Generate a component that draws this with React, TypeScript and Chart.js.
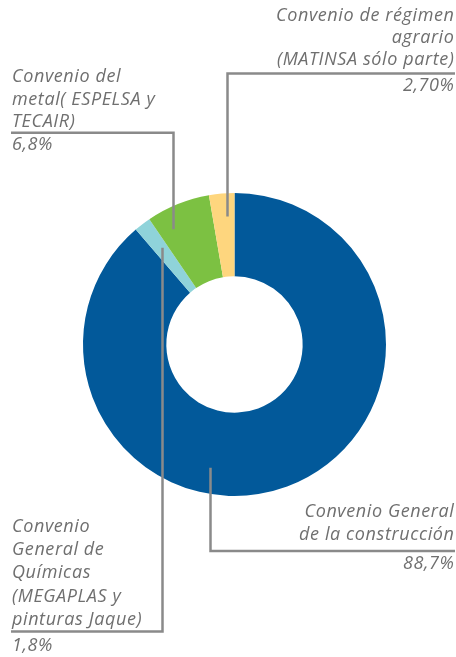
import React, { useEffect, useRef } from "react";
import { Chart, registerables } from "chart.js";

Chart.register(...registerables);

const categories = [
  "Convenio General de la construcción",
  "Convenio General de Químicas (MEGAPLAS y pinturas Jaque)",
  "Convenio del metal( ESPELSA y TECAIR)",
  "Convenio de régimen agrario (MATINSA sólo parte)",
];
const values = [88.7, 1.8, 6.8, 2.7];
const percentLabels = ["88,7%", "1,8%", "6,8%", "2,70%"];
const labelLines = [
  ["Convenio General", "de la construcción"],
  ["Convenio", "General de", "Químicas", "(MEGAPLAS y", "pinturas Jaque)"],
  ["Convenio del", "metal( ESPELSA y", "TECAIR)"],
  ["Convenio de régimen", "agrario", "(MATINSA sólo parte)"],
];
const colors = ["#02599a", "#8fd3da", "#7cc142", "#fed67e"];

// label layout (styling)
const labelLayout = [
  { align: "right", x: 454.5, top: 516.7, step: 23.3, lineY: 551, edge: 455, pctY: 569, t: 0.599, rr: 0.69 },
  { align: "left", x: 12, top: 531.7, step: 23.3, lineY: 631.5, edge: 11, pctY: 650.5, t: 0.61, rr: 0.63 },
  { align: "left", x: 12, top: 82.3, step: 22.3, lineY: 132.7, edge: 11, pctY: 150, t: 0.25, rr: 0.75 },
  { align: "right", x: 454.5, top: 20.7, step: 22.1, lineY: 73.5, edge: 455, pctY: 90.7, t: 0.66, rr: 0.72 },
];

const FONT = "italic 500 18px 'Open Sans'";
const SPACING = 0.6;

const leaderPlugin = {
  id: "leaders",
  afterDatasetsDraw(chart: any) {
    const ctx = chart.ctx;
    const meta = chart.getDatasetMeta(0);
    ctx.save();
    meta.data.forEach((arc: any, i: number) => {
      const L = labelLayout[i];
      const p = arc.getProps(["x", "y", "startAngle", "endAngle", "innerRadius", "outerRadius"], true);
      const ang = p.startAngle + L.t * (p.endAngle - p.startAngle);
      const r = p.innerRadius + L.rr * (p.outerRadius - p.innerRadius);
      const ax = Math.round(p.x + r * Math.cos(ang)) + 0.5;
      const ay = p.y + r * Math.sin(ang);
      ctx.strokeStyle = "#8a8a8a";
      ctx.lineWidth = 2.5;
      ctx.lineCap = "butt";
      ctx.beginPath();
      ctx.moveTo(ax, ay);
      ctx.lineTo(ax, L.lineY);
      ctx.lineTo(L.edge, L.lineY);
      ctx.stroke();

      ctx.fillStyle = "#6f6f6f";
      ctx.font = FONT;
      try { (ctx as any).letterSpacing = SPACING + "px"; } catch (e) {}
      ctx.textAlign = L.align;
      ctx.textBaseline = "alphabetic";
      labelLines[i].forEach((line, k) => {
        ctx.fillText(line, L.x, L.top + k * L.step);
      });
      ctx.fillText(percentLabels[i], L.x, L.pctY);
    });
    ctx.restore();
  },
};

export default function App() {
  const ref = useRef<HTMLCanvasElement>(null);
  useEffect(() => {
    const chart = new Chart(ref.current!, {
      type: "doughnut",
      data: {
        labels: categories,
        datasets: [
          {
            data: values,
            backgroundColor: colors,
            borderWidth: 0,
            hoverOffset: 0,
            offset: 0,
          },
        ],
      },
      options: {
        animation: false,
        responsive: false,
        cutout: "45%",
        layout: { padding: { left: 83, right: 70, top: 193, bottom: 161 } },
        plugins: { legend: { display: false }, tooltip: { enabled: false } },
      },
      plugins: [leaderPlugin],
    });
    return () => chart.destroy();
  }, []);
  return (
    <div style={{ position: "fixed", left: 0, top: 0, width: 456, height: 657, background: "#fff" }}>
      <canvas ref={ref} width={456} height={657} style={{ width: 456, height: 657 }} />
    </div>
  );
}
